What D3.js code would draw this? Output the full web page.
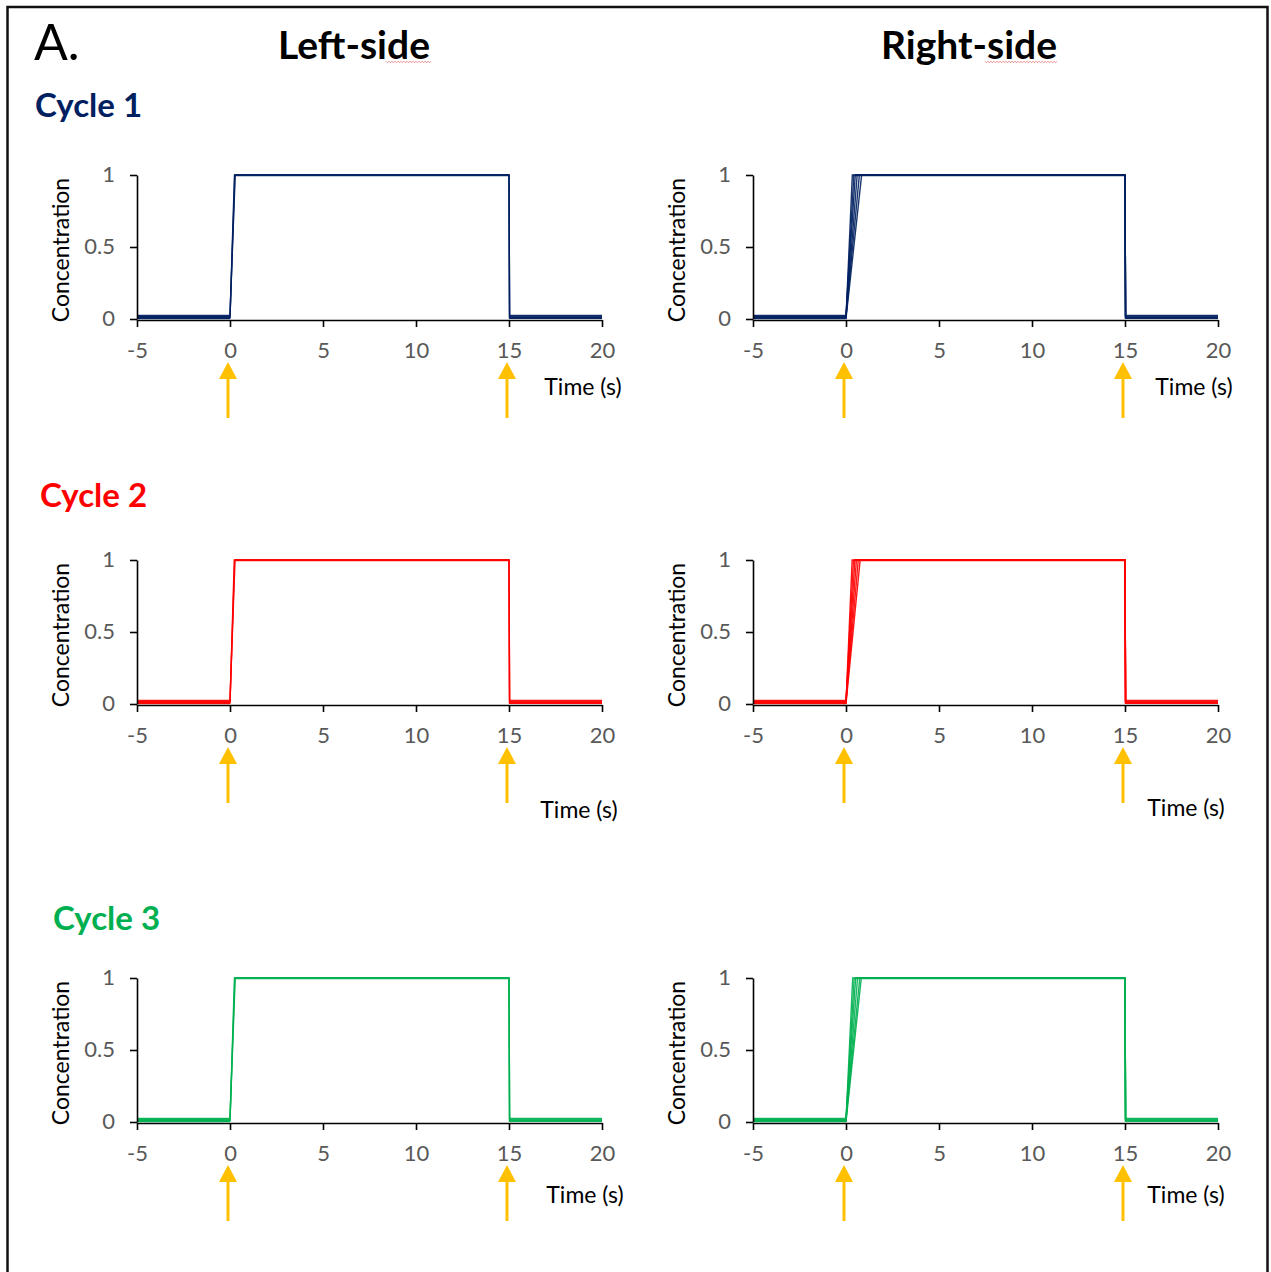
<!DOCTYPE html>
<html>
<head>
<meta charset="utf-8">
<script src="https://cdn.jsdelivr.net/npm/d3@7/dist/d3.min.js"></script>
<style>
  html, body { margin: 0; padding: 0; background: #fff; }
  svg { display: block; }
  text { font-family: Lato, "Open Sans", "Noto Sans", sans-serif; }
</style>
</head>
<body>
<svg id="fig" width="1271" height="1272"></svg>
<script>
// ---- data ----------------------------------------------------------------
const sides = ["Left-side", "Right-side"];
const cycles = ["Cycle 1", "Cycle 2", "Cycle 3"];
const cycleColors = ["#002060", "#FF0000", "#00B050"];

const xTicks = [-5, 0, 5, 10, 15, 20];
const xTickLabels = ["-5", "0", "5", "10", "15", "20"];
const yTicks = [0, 0.5, 1];
const yTickLabels = ["0", "0.5", "1"];
const stimulusTimes = [0, 15];          // valve on / valve off (s)
const onTime = 0, offTime = 15, startTime = -5, endTime = 20;
const fallDuration = 0.03;

// time (s) at which each recorded trace reaches the plateau
const riseEndLeft = [
  [0.24, 0.26, 0.28],
  [0.23, 0.25, 0.27],
  [0.24, 0.26, 0.28]
];
const riseEndRight = [
  [0.34, 0.42, 0.50, 0.60, 0.72, 0.84],
  [0.33, 0.40, 0.48, 0.56, 0.66, 0.76],
  [0.36, 0.44, 0.52, 0.62, 0.74, 0.82]
];
// resting concentration of each trace before / after the pulse
const baselineBefore = [0.006, 0.014, 0.024, 0.01, 0.019, 0.003];
const baselineAfter  = [0.01, 0.02, 0.004, 0.025, 0.008, 0.015];
const plateau        = [1.0, 0.997, 1.002, 0.999, 1.001, 0.998];

// ---- layout ---------------------------------------------------------------
const panelRows = [
  { top: 175, bottom: 319, timeLabel: [[583, 395], [1194, 395]] },
  { top: 560, bottom: 704, timeLabel: [[579, 818], [1186, 816]] },
  { top: 978, bottom: 1122, timeLabel: [[585, 1203], [1186, 1203]] }
];
const panelCols = [
  { left: 137, right: 602 },
  { left: 753, right: 1218 }
];
const cycleLabelPos = [[35, 117], [40, 507], [53, 930]];

const svg = d3.select("#fig");

// outer frame
svg.append("rect")
  .attr("x", 7.5).attr("y", 7).attr("width", 1260).attr("height", 1290)
  .attr("fill", "none").attr("stroke", "#111").attr("stroke-width", 2.5);

// headings
svg.append("text").attr("x", 34).attr("y", 60)
  .attr("font-size", 50).attr("fill", "#000").text("A.");

const sideCenters = [354, 969];
sides.forEach((s, i) => {
  svg.append("text")
    .attr("x", sideCenters[i]).attr("y", 59)
    .attr("text-anchor", "middle")
    .attr("font-size", 39).attr("font-weight", 700).attr("fill", "#000")
    .text(s);
});

// wavy spell-check style underline below "side"
[[386, 431], [985, 1057]].forEach(([a, b]) => {
  const pts = d3.range(a, b + 0.1, 1.5).map((x, k) => [x, 62 + (k % 2 ? 0.8 : -0.8)]);
  svg.append("path").attr("d", d3.line()(pts))
    .attr("fill", "none").attr("stroke", "#e05a5a").attr("stroke-width", 0.8).attr("opacity", 0.8);
});

cycles.forEach((c, i) => {
  svg.append("text")
    .attr("x", cycleLabelPos[i][0]).attr("y", cycleLabelPos[i][1])
    .attr("font-size", 33).attr("font-weight", 700)
    .attr("fill", cycleColors[i]).text(c);
});

// ---- panels ---------------------------------------------------------------
function traceFor(k, riseEnd) {
  return [
    [startTime, baselineBefore[k]],
    [onTime, baselineBefore[k]],
    [riseEnd, plateau[k]],
    [offTime, plateau[k]],
    [offTime + fallDuration, baselineAfter[k]],
    [endTime, baselineAfter[k]]
  ];
}

panelRows.forEach((row, ri) => {
  panelCols.forEach((col, ci) => {
    const g = svg.append("g");
    const x = d3.scaleLinear().domain([startTime, endTime]).range([col.left, col.right]);
    const y = d3.scaleLinear().domain([0, 1]).range([row.bottom, row.top]);
    const color = cycleColors[ri];

    // traces
    const rises = ci === 0 ? riseEndLeft[ri] : riseEndRight[ri];
    const line = d3.line().x(d => x(d[0])).y(d => y(d[1]));
    rises.forEach((r, k) => {
      g.append("path")
        .attr("d", line(traceFor(k, r)))
        .attr("fill", "none")
        .attr("stroke", color)
        .attr("stroke-width", 1.4)
        .attr("stroke-linejoin", "miter")
        .attr("opacity", 0.9);
    });
    if (rises.length < 6) {
      // extra resting-level traces so the baseline band has its full width
      [3, 4, 5].forEach(k => {
        g.append("path")
          .attr("d", line([[startTime, baselineBefore[k]], [onTime, baselineBefore[k]]]))
          .attr("fill", "none").attr("stroke", color).attr("stroke-width", 1.4).attr("opacity", 0.9);
        g.append("path")
          .attr("d", line([[offTime + fallDuration, baselineAfter[k]], [endTime, baselineAfter[k]]]))
          .attr("fill", "none").attr("stroke", color).attr("stroke-width", 1.4).attr("opacity", 0.9);
      });
    }

    // axes
    const xAxis = d3.axisBottom(x).tickValues(xTicks).tickSize(7).tickSizeOuter(0)
      .tickFormat((d, i) => xTickLabels[i]);
    const gx = g.append("g").attr("transform", `translate(0,${y(0) + 1})`).call(xAxis);
    gx.select(".domain").attr("stroke", "#000").attr("stroke-width", 1.6);
    gx.selectAll(".tick line").attr("stroke", "#000").attr("stroke-width", 1.6);
    gx.selectAll(".tick text").attr("font-size", 22).attr("fill", "#595959")
      .attr("y", 22).attr("font-family", "Lato, 'Open Sans', sans-serif");

    const yAxis = d3.axisLeft(y).tickValues(yTicks).tickSize(7).tickSizeOuter(0)
      .tickFormat((d, i) => yTickLabels[i]);
    const gy = g.append("g").attr("transform", `translate(${x(startTime)},0)`).call(yAxis);
    gy.select(".domain").attr("stroke", "#000").attr("stroke-width", 1.6);
    gy.selectAll(".tick line").attr("stroke", "#000").attr("stroke-width", 1.6);
    gy.selectAll(".tick text").attr("font-size", 22).attr("fill", "#595959")
      .attr("x", -22).attr("dy", "0.28em").attr("font-family", "Lato, 'Open Sans', sans-serif");

    // axis titles
    g.append("text")
      .attr("transform", `translate(${col.left - 68},${(row.top + row.bottom) / 2 + 3}) rotate(-90)`)
      .attr("text-anchor", "middle").attr("font-size", 23).attr("fill", "#000")
      .text("Concentration");
    g.append("text")
      .attr("x", row.timeLabel[ci][0]).attr("y", row.timeLabel[ci][1])
      .attr("text-anchor", "middle").attr("font-size", 23).attr("fill", "#000")
      .text("Time (s)");

    // stimulus arrows
    stimulusTimes.forEach(t => {
      const ax = x(t) - 2;
      const tip = y(0) + 43, base = y(0) + 99;
      g.append("line")
        .attr("x1", ax).attr("x2", ax).attr("y1", tip + 14).attr("y2", base)
        .attr("stroke", "#FFC000").attr("stroke-width", 3);
      g.append("path")
        .attr("d", `M${ax},${tip} L${ax - 9},${tip + 17} L${ax + 9},${tip + 17} Z`)
        .attr("fill", "#FFC000");
    });
  });
});
</script>
</body>
</html>
